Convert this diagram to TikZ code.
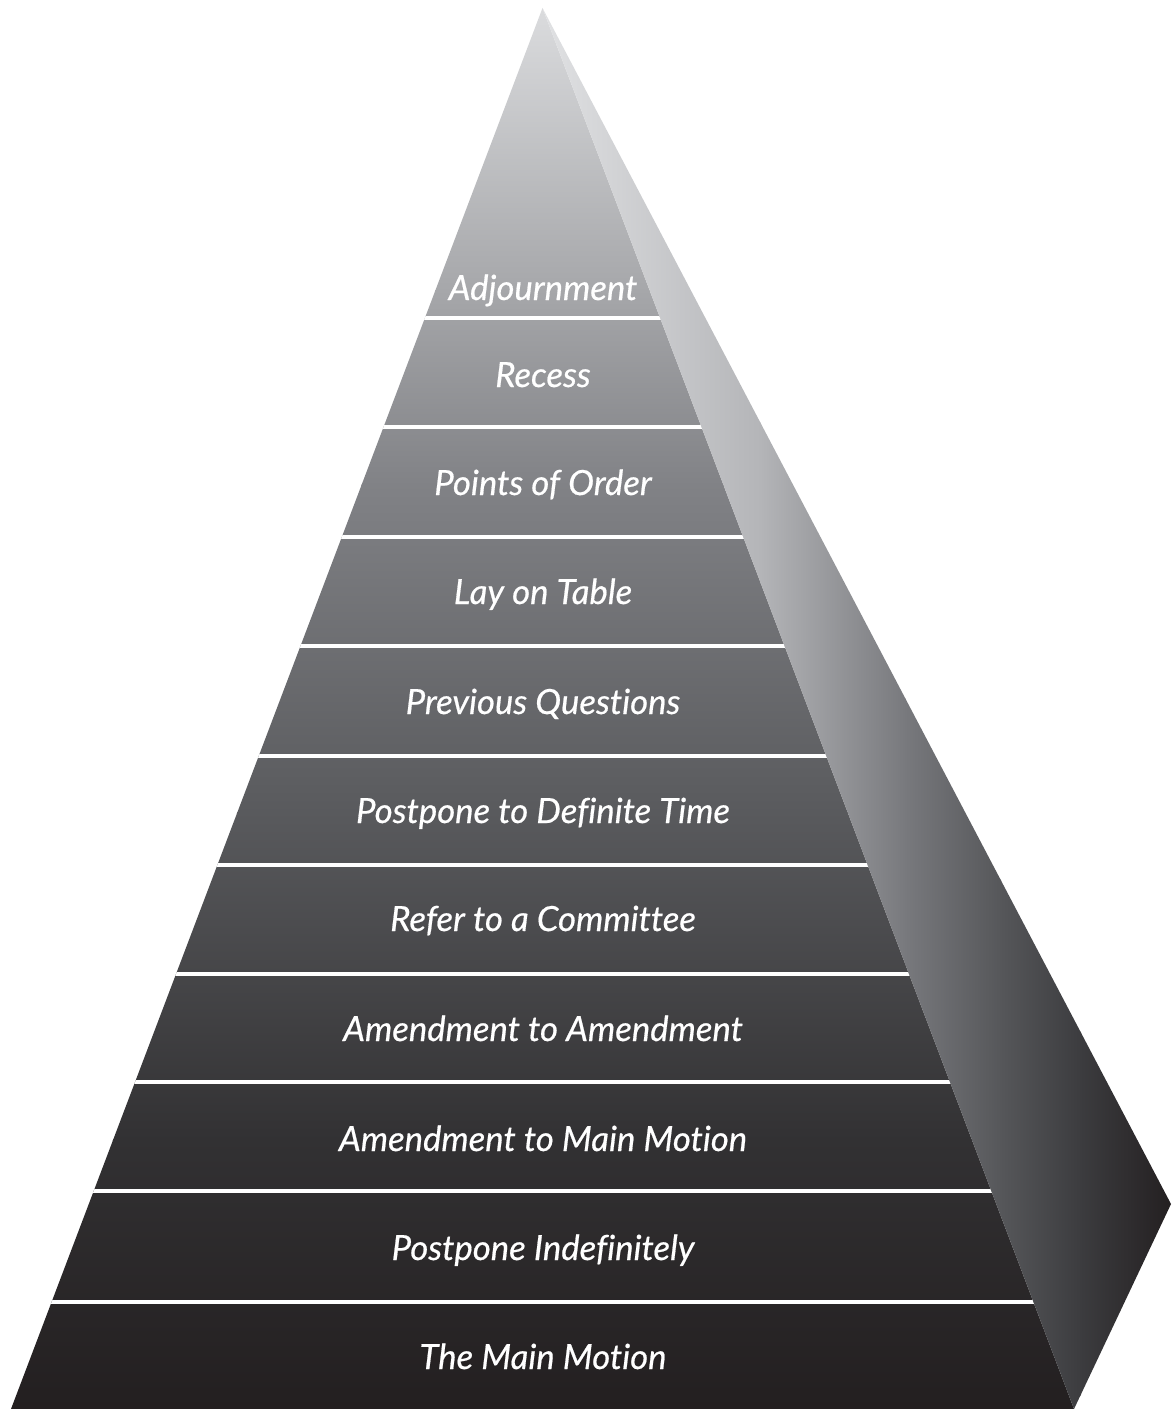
\documentclass[tikz,border=0pt]{standalone}
\usepackage{fontspec}
\newfontfamily\labfont{Lato}[Ligatures={NoCommon},ItalicFeatures={FakeBold=0.5}]
\definecolor{fa}{RGB}{220,221,223}
\definecolor{fb}{RGB}{166,167,170}
\definecolor{fc}{RGB}{129,130,134}
\definecolor{fd}{RGB}{89,90,93}
\definecolor{fe}{RGB}{50,49,51}
\definecolor{ff}{RGB}{35,31,32}
\definecolor{ra}{RGB}{225,226,228}
\definecolor{rb}{RGB}{180,181,184}
\definecolor{rc}{RGB}{120,121,125}
\definecolor{rd}{RGB}{86,87,90}
\definecolor{re}{RGB}{60,60,63}
\definecolor{rf}{RGB}{35,31,32}
\begin{document}
\begin{tikzpicture}[x=0.75pt,y=-0.75pt,
  lab/.style={text=white,font=\labfont\itshape\fontsize{26}{30}\selectfont,anchor=base,inner sep=0pt},
  sep/.style={draw=white,line width=3pt}]
\useasboundingbox (0,0) rectangle (1174,1409);
\coordinate (apex) at (542.5,8);
\coordinate (bl) at (11,1409);
\coordinate (br) at (1074,1409);
\coordinate (rv) at (1171,1204);
% front face
\begin{scope}
  \clip (apex) -- (bl) -- (br) -- cycle;
  \shade[top color=fa, bottom color=fb] (0,0) rectangle (1174,291);
  \shade[top color=fb, bottom color=fc] (0,290) rectangle (1174,485);
  \shade[top color=fc, bottom color=fd] (0,484) rectangle (1174,813);
  \shade[top color=fd, bottom color=fe] (0,812) rectangle (1174,1140);
  \shade[top color=fe, bottom color=ff] (0,1139) rectangle (1174,1409);
  \foreach \yy in {318,427,537,646,756,865,974,1082,1191,1302}
    \draw[sep] (0,\yy) -- (1174,\yy);
\end{scope}
% right face
\begin{scope}
  \clip (apex) -- (rv) -- (br) -- cycle;
  \shade[left color=ra, right color=rb] (540,0) rectangle (761,1409);
  \shade[left color=rb, right color=rc] (760,0) rectangle (906,1409);
  \shade[left color=rc, right color=rd] (905,0) rectangle (1001,1409);
  \shade[left color=rd, right color=re] (1000,0) rectangle (1081,1409);
  \shade[left color=re, right color=rf] (1080,0) rectangle (1174,1409);
\end{scope}
% labels
\node[lab] (t1) at (543,300) {Adjournment};
\node[lab] (t2) at (543,387) {Recess};
\node[lab] (t3) at (543,495) {Points of Order};
\node[lab] (t4) at (543,604) {Lay on Table};
\node[lab] (t5) at (543,714) {Previous Questions};
\node[lab] (t6) at (543,823) {Postpone to Definite Time};
\node[lab] (t7) at (543,931) {Refer to a Committee};
\node[lab] (t8) at (543,1041) {Amendment to Amendment};
\node[lab] (t9) at (543,1151) {Amendment to Main Motion};
\node[lab] (t10) at (543,1260) {Postpone Indefinitely};
\node[lab] (t11) at (543,1369) {The Main Motion};
\end{tikzpicture}
\end{document}
